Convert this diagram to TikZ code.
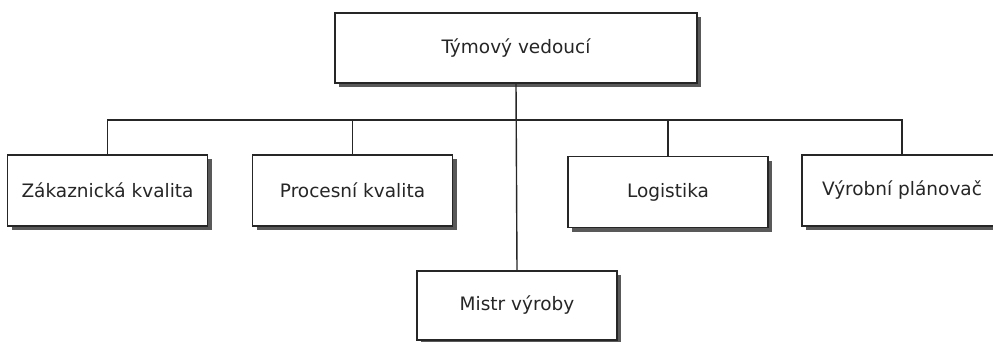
\documentclass[tikz,border=0pt]{standalone}
\usepackage{fontspec}
\setmainfont{DejaVu Sans}
\usepackage{xcolor}
\usepackage{tikz}
\usetikzlibrary{positioning, shadows}

\begin{document}
\begin{tikzpicture}[
    x=1pt, y=-1pt,
    role/.style={rectangle, draw=black!85, line width=1.4pt, fill=white, minimum width=200pt, minimum height=71pt, inner sep=0pt, font=\fontsize{18.5}{20}\selectfont, text=black!85,
        drop shadow={shadow xshift=4pt, shadow yshift=-4pt, fill=black!65, opacity=1}},
    head/.style={role, minimum width=362pt, minimum height=70pt},
    link/.style={draw=black!85, line width=1.4pt}
]
\useasboundingbox (0,0) rectangle (993,342);
\clip (0,0) rectangle (993,342);

\node [head] (lead) at (516,48) {Týmový vedoucí};
\node [role] (zakaz) at (107.5,190.5) {Zákaznická kvalita};
\node [role] (proces) at (352.5,190.5) {Procesní kvalita};
\node [role] (logist) at (668,192) {Logistika};
\node [role] (planov) at (902,190.5) {Výrobní plánovač};
\node [role, minimum height=69pt] (mistr) at (517,305.5) {Mistr výroby};

\coordinate (bus) at (517,120);

\draw [link] (lead.south) -- (mistr.north);
\draw [link] (zakaz.north) |- (bus) -| (planov.north);
\draw [link] (proces.north) -- (proces.north |- bus);
\draw [link] (logist.north) -- (logist.north |- bus);

\end{tikzpicture}
\end{document}
